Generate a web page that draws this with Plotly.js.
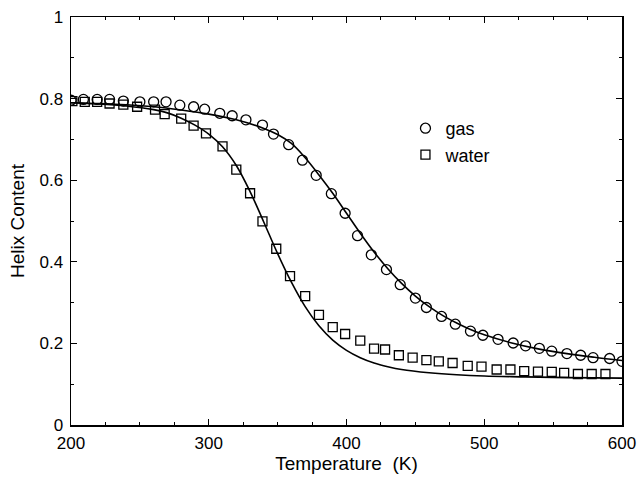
<!DOCTYPE html>
<html>
<head>
<meta charset="utf-8">
<script src="https://cdn.plot.ly/plotly-3.0.1.min.js"></script>
<style>html,body{margin:0;padding:0;background:#fff;}#chart{width:641px;height:483px;}</style>
</head>
<body>
<div id="chart"></div>
<script>
// gas phase: simulation points
var gasT = [200,209,219,228,238,250,260,269,279,289,297,308,317,327,339,347,358,368,378,389,399,408,418,429,439,450,458,469,479,490,499,510,521,530,540,549,560,570,579,591,600];
var gasH = [0.796,0.798,0.798,0.798,0.794,0.792,0.792,0.792,0.784,0.780,0.774,0.764,0.758,0.748,0.735,0.713,0.687,0.649,0.612,0.567,0.519,0.464,0.417,0.381,0.344,0.311,0.288,0.266,0.247,0.230,0.220,0.210,0.201,0.194,0.188,0.181,0.175,0.171,0.165,0.163,0.156];
// water: simulation points
var waterT = [201,210,219,228,238,248,261,268,280,289,298,310,320,330,339,349,359,370,380,390,399,410,420,428,438,448,458,467,477,488,498,509,519,529,539,549,558,568,578,588];
var waterH = [0.794,0.792,0.792,0.788,0.785,0.780,0.773,0.762,0.751,0.734,0.715,0.683,0.626,0.568,0.499,0.432,0.365,0.316,0.270,0.240,0.223,0.207,0.187,0.185,0.171,0.165,0.159,0.156,0.152,0.145,0.143,0.136,0.136,0.132,0.131,0.130,0.128,0.125,0.125,0.125];
// fitted curves
var gasFitT = [200,220,240,260,280,300,320,340,350,360,370,380,390,400,410,420,430,440,450,460,470,480,490,500,520,540,560,580,600];
var gasFitH = [0.790,0.788,0.785,0.780,0.772,0.762,0.748,0.727,0.712,0.690,0.655,0.613,0.568,0.519,0.470,0.424,0.383,0.347,0.316,0.290,0.268,0.250,0.234,0.221,0.201,0.186,0.175,0.166,0.158];
var waterFitT = [200,220,240,260,270,280,290,300,310,320,330,340,350,360,370,380,390,400,410,420,430,440,460,480,500,530,560,600];
var waterFitH = [0.790,0.787,0.782,0.773,0.765,0.752,0.735,0.713,0.682,0.636,0.572,0.497,0.420,0.350,0.290,0.243,0.208,0.183,0.165,0.152,0.143,0.136,0.128,0.123,0.120,0.118,0.116,0.115];

var xTicks = [200,300,400,500,600];
var yTicks = [0,0.2,0.4,0.6,0.8,1];

var font = "'Liberation Sans', Arial, Helvetica, sans-serif";

var traces = [
  {x: gasFitT, y: gasFitH, mode: 'lines', line: {color: '#000', width: 1.6, shape: 'spline', smoothing: 1}, showlegend: false, hoverinfo: 'skip'},
  {x: waterFitT, y: waterFitH, mode: 'lines', line: {color: '#000', width: 1.6, shape: 'spline', smoothing: 1}, showlegend: false, hoverinfo: 'skip'},
  {x: gasT, y: gasH, name: 'gas', mode: 'markers', marker: {symbol: 'circle-open', size: 10, color: '#000', line: {width: 1.3, color: '#000'}}},
  {x: waterT, y: waterH, name: 'water', mode: 'markers', marker: {symbol: 'square-open', size: 9, color: '#000', line: {width: 1.3, color: '#000'}}}
];

var layout = {
  width: 641, height: 483,
  margin: {l: 71, r: 19, t: 17, b: 58, pad: 0},
  paper_bgcolor: '#fff', plot_bgcolor: '#fff',
  font: {family: font, color: '#000', size: 17},
  showlegend: true,
  legend: {x: 0.607, y: 0.772, xanchor: 'left', yanchor: 'top', bgcolor: 'rgba(0,0,0,0)', font: {family: font, size: 18, color: '#000'}, itemwidth: 30, tracegroupgap: 0},
  xaxis: {
    range: [200, 600], tickvals: xTicks, ticktext: xTicks.map(String),
    ticks: 'inside', ticklen: 6, tickwidth: 1.2, tickcolor: '#000',
    minor: {dtick: 25, tick0: 200, ticks: 'inside', ticklen: 3, tickcolor: '#000', tickwidth: 1},
    showline: true, linecolor: '#000', linewidth: 1.5, mirror: 'ticks',
    showgrid: false, zeroline: false, ticklabelstandoff: 2,
    tickfont: {family: font, size: 17, color: '#000'},
    title: {text: 'Temperature\u00a0\u00a0(K)', font: {family: font, size: 19, color: '#000'}, standoff: 5}
  },
  yaxis: {
    range: [0, 1], tickvals: yTicks, ticktext: ['0','0.2','0.4','0.6','0.8','1'],
    ticks: 'inside', ticklen: 6, tickwidth: 1.2, tickcolor: '#000',
    minor: {dtick: 0.1, tick0: 0, ticks: 'inside', ticklen: 3, tickcolor: '#000', tickwidth: 1},
    showline: true, linecolor: '#000', linewidth: 1.5, mirror: 'ticks',
    showgrid: false, zeroline: false, ticklabelstandoff: 3,
    tickfont: {family: font, size: 17, color: '#000'},
    title: {text: 'Helix Content', font: {family: font, size: 19, color: '#000'}, standoff: 10}
  }
};

Plotly.newPlot('chart', traces, layout, {displayModeBar: false, staticPlot: true});
</script>
</body>
</html>
